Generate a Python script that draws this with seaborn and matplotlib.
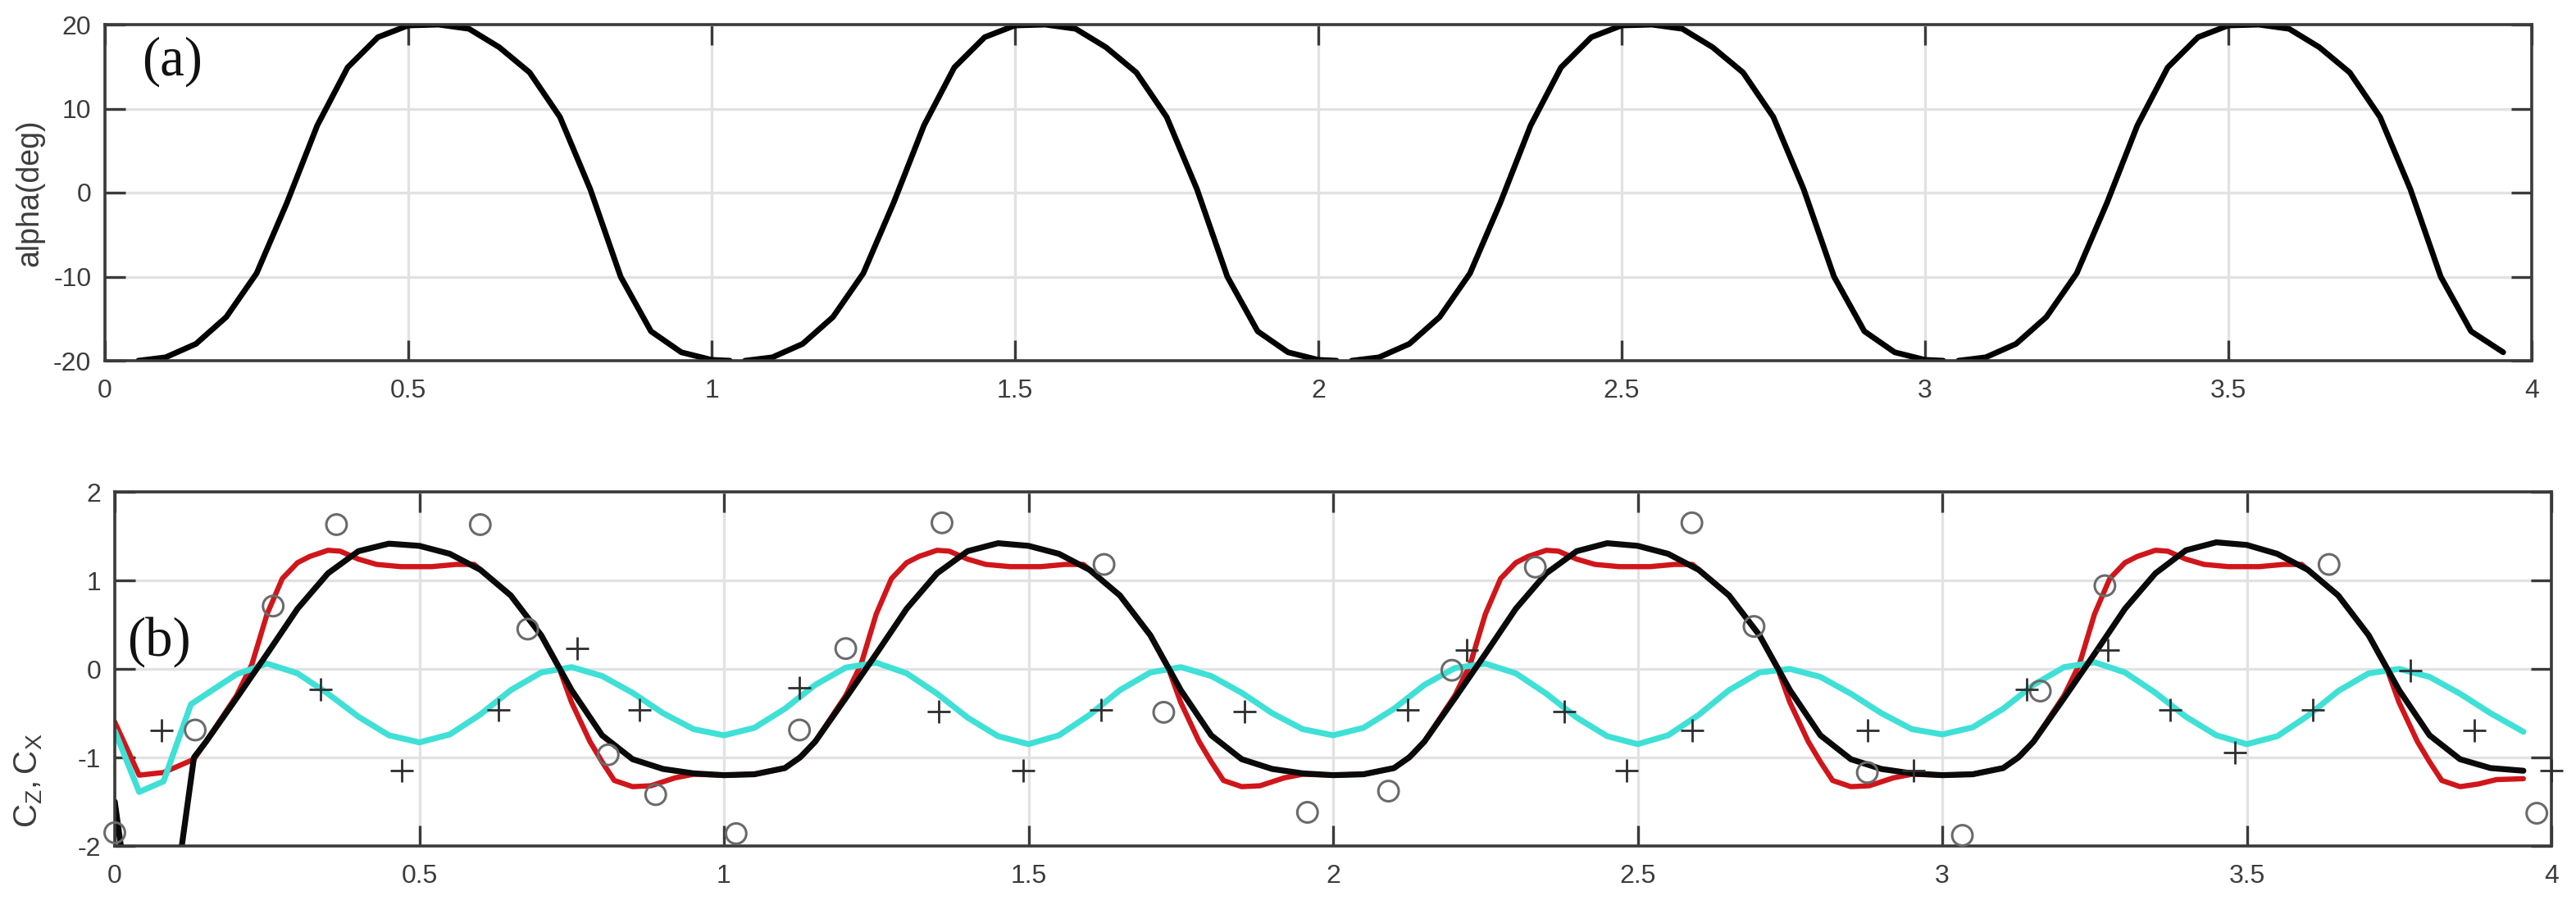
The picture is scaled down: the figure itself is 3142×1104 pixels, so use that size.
import numpy as np
import pandas as pd
import matplotlib
matplotlib.use("Agg")
import matplotlib.pyplot as plt
import seaborn as sns

# ---------------- data ----------------
# panel (a): angle of attack, four sampled cycles (gaps near each minimum)
alpha_t = [0.055, 0.10, 0.15, 0.20, 0.25, 0.30, 0.35, 0.40, 0.45, 0.50, 0.55, 0.60, 0.65, 0.70, 0.75, 0.80, 0.85, 0.90, 0.95, 1.00, 1.03,
           1.055, 1.10, 1.15, 1.20, 1.25, 1.30, 1.35, 1.40, 1.45, 1.50, 1.55, 1.60, 1.65, 1.70, 1.75, 1.80, 1.85, 1.90, 1.95, 2.00, 2.03,
           2.055, 2.10, 2.15, 2.20, 2.25, 2.30, 2.35, 2.40, 2.45, 2.50, 2.55, 2.60, 2.65, 2.70, 2.75, 2.80, 2.85, 2.90, 2.95, 3.00, 3.03,
           3.055, 3.10, 3.15, 3.20, 3.25, 3.30, 3.35, 3.40, 3.45, 3.50, 3.55, 3.60, 3.65, 3.70, 3.75, 3.80, 3.85, 3.90, 3.953]
alpha_v = [-20.0, -19.6, -18.0, -14.8, -9.6, -1.2, 8.0, 14.9, 18.5, 19.9, 20.0, 19.5, 17.3, 14.3, 9.0, 0.4, -10.0, -16.5, -19.0, -19.9, -20.0,
           -20.0, -19.6, -18.0, -14.8, -9.6, -1.2, 8.0, 14.9, 18.5, 19.9, 20.0, 19.5, 17.3, 14.3, 9.0, 0.4, -10.0, -16.5, -19.0, -19.9, -20.0,
           -20.0, -19.6, -18.0, -14.8, -9.6, -1.2, 8.0, 14.9, 18.5, 19.9, 20.0, 19.5, 17.3, 14.3, 9.0, 0.4, -10.0, -16.5, -19.0, -19.9, -20.0,
           -20.0, -19.6, -18.0, -14.8, -9.6, -1.2, 8.0, 14.9, 18.5, 19.9, 20.0, 19.5, 17.3, 14.3, 9.0, 0.4, -10.0, -16.5, -19.0]
alpha_seg = [1] * 21 + [2] * 21 + [3] * 21 + [4] * 19

# panel (b): Cz model (black)
cz_model_t = [0.0, 0.02, 0.10, 0.13, 0.15, 0.20, 0.25, 0.30, 0.35, 0.40, 0.45, 0.50, 0.55, 0.60, 0.65, 0.70, 0.75, 0.80, 0.85, 0.90, 0.95,
              1.00, 1.05, 1.10, 1.125, 1.15, 1.20, 1.25, 1.30, 1.35, 1.40, 1.45, 1.50, 1.55, 1.60, 1.65, 1.70, 1.75, 1.80, 1.85, 1.90, 1.95,
              2.00, 2.05, 2.10, 2.125, 2.15, 2.20, 2.25, 2.30, 2.35, 2.40, 2.45, 2.50, 2.55, 2.60, 2.65, 2.70, 2.75, 2.80, 2.85, 2.90, 2.95,
              3.00, 3.05, 3.10, 3.125, 3.15, 3.20, 3.25, 3.30, 3.35, 3.40, 3.45, 3.50, 3.55, 3.60, 3.65, 3.70, 3.75, 3.80, 3.85, 3.90, 3.954]
cz_model_v = [-1.5, -2.5, -2.5, -1.0, -0.82, -0.33, 0.17, 0.68, 1.08, 1.33, 1.415, 1.39, 1.30, 1.12, 0.83, 0.38, -0.24, -0.75, -1.02, -1.13, -1.18,
              -1.20, -1.19, -1.12, -1.0, -0.82, -0.33, 0.17, 0.68, 1.08, 1.33, 1.42, 1.39, 1.30, 1.12, 0.83, 0.38, -0.24, -0.75, -1.02, -1.13, -1.18,
              -1.20, -1.19, -1.12, -1.0, -0.82, -0.33, 0.17, 0.68, 1.08, 1.33, 1.42, 1.39, 1.30, 1.12, 0.83, 0.38, -0.24, -0.75, -1.02, -1.13, -1.18,
              -1.20, -1.19, -1.12, -1.0, -0.82, -0.33, 0.17, 0.68, 1.08, 1.34, 1.43, 1.40, 1.30, 1.12, 0.83, 0.38, -0.24, -0.75, -1.02, -1.12, -1.15]

# panel (b): Cz experiment (red)
cz_exp_t = [0.0, 0.04, 0.08, 0.13, 0.15, 0.20, 0.225, 0.25, 0.275, 0.30, 0.32, 0.35, 0.37, 0.40, 0.43, 0.47, 0.52, 0.56, 0.59, 0.65, 0.70, 0.73,
            0.75, 0.78, 0.80, 0.82, 0.85, 0.88, 0.92, 0.95, 1.00, 1.05, 1.10, 1.13,
            1.15, 1.20, 1.225, 1.25, 1.275, 1.30, 1.32, 1.35, 1.37, 1.40, 1.43, 1.47, 1.52, 1.56, 1.59, 1.65, 1.70, 1.73,
            1.75, 1.78, 1.80, 1.82, 1.85, 1.88, 1.92, 1.95, 2.00, 2.05, 2.10, 2.13,
            2.15, 2.20, 2.225, 2.25, 2.275, 2.30, 2.32, 2.35, 2.37, 2.40, 2.43, 2.47, 2.52, 2.56, 2.59, 2.65, 2.70, 2.73,
            2.75, 2.78, 2.80, 2.82, 2.85, 2.88, 2.92, 2.95, 3.00, 3.05, 3.10, 3.13,
            3.15, 3.20, 3.225, 3.25, 3.275, 3.30, 3.32, 3.35, 3.37, 3.40, 3.43, 3.47, 3.52, 3.56, 3.59, 3.65, 3.70, 3.73,
            3.75, 3.78, 3.80, 3.82, 3.85, 3.88, 3.91, 3.954]
cz_exp_v = [-0.6, -1.2, -1.17, -1.02, -0.82, -0.30, 0.05, 0.62, 1.02, 1.20, 1.27, 1.34, 1.33, 1.24, 1.18, 1.155, 1.155, 1.18, 1.18, 0.83, 0.38, 0.0,
            -0.38, -0.82, -1.05, -1.26, -1.33, -1.32, -1.23, -1.19, -1.20, -1.19, -1.12, -0.97,
            -0.82, -0.30, 0.05, 0.62, 1.02, 1.20, 1.27, 1.34, 1.33, 1.24, 1.18, 1.155, 1.155, 1.18, 1.18, 0.83, 0.38, 0.0,
            -0.38, -0.82, -1.05, -1.26, -1.33, -1.32, -1.23, -1.19, -1.20, -1.19, -1.12, -0.97,
            -0.82, -0.30, 0.05, 0.62, 1.02, 1.20, 1.27, 1.34, 1.33, 1.24, 1.18, 1.155, 1.155, 1.18, 1.18, 0.83, 0.38, 0.0,
            -0.38, -0.82, -1.05, -1.26, -1.33, -1.32, -1.23, -1.19, -1.20, -1.19, -1.12, -0.97,
            -0.82, -0.30, 0.05, 0.62, 1.02, 1.20, 1.27, 1.34, 1.33, 1.24, 1.18, 1.155, 1.155, 1.18, 1.18, 0.83, 0.38, 0.0,
            -0.38, -0.82, -1.05, -1.26, -1.33, -1.30, -1.25, -1.24]

# panel (b): Cx (cyan)
cx_t = [0.0, 0.04, 0.08, 0.125, 0.16, 0.20, 0.25, 0.30, 0.35, 0.40, 0.45, 0.50, 0.55, 0.60, 0.65, 0.70, 0.75, 0.80, 0.85, 0.90, 0.95,
        1.00, 1.05, 1.10, 1.15, 1.20, 1.25, 1.30, 1.35, 1.40, 1.45, 1.50, 1.55, 1.60, 1.65, 1.70, 1.75, 1.80, 1.85, 1.90, 1.95,
        2.00, 2.05, 2.10, 2.15, 2.20, 2.25, 2.30, 2.35, 2.40, 2.45, 2.50, 2.55, 2.60, 2.65, 2.70, 2.75, 2.80, 2.85, 2.90, 2.95,
        3.00, 3.05, 3.10, 3.15, 3.20, 3.25, 3.30, 3.35, 3.40, 3.45, 3.50, 3.55, 3.60, 3.65, 3.70, 3.75, 3.80, 3.85, 3.90, 3.954]
cx_v = [-0.7, -1.39, -1.27, -0.40, -0.24, -0.06, 0.06, -0.05, -0.28, -0.54, -0.75, -0.83, -0.74, -0.515, -0.24, -0.04, 0.02, -0.08, -0.27, -0.50, -0.68,
        -0.75, -0.665, -0.45, -0.18, 0.015, 0.07, -0.05, -0.28, -0.55, -0.76, -0.85, -0.75, -0.52, -0.24, -0.04, 0.02, -0.08, -0.27, -0.50, -0.68,
        -0.75, -0.665, -0.45, -0.18, 0.01, 0.06, -0.05, -0.28, -0.55, -0.76, -0.85, -0.75, -0.52, -0.24, -0.04, 0.0, -0.09, -0.28, -0.50, -0.68,
        -0.74, -0.66, -0.45, -0.18, 0.02, 0.075, -0.04, -0.27, -0.54, -0.75, -0.85, -0.76, -0.53, -0.25, -0.05, 0.0, -0.09, -0.28, -0.50, -0.71]

# panel (b): measured points
circ_t = [0.0, 0.132, 0.26, 0.364, 0.600, 0.678, 0.81, 0.888, 1.02, 1.124, 1.20, 1.358, 1.624, 1.722, 1.958, 2.091, 2.195,
          2.332, 2.589, 2.691, 2.877, 3.033, 3.161, 3.267, 3.635, 3.976]
circ_v = [-1.85, -0.69, 0.71, 1.63, 1.63, 0.45, -0.97, -1.42, -1.86, -0.69, 0.23, 1.65, 1.18, -0.49, -1.62, -1.38, -0.015,
          1.15, 1.65, 0.48, -1.17, -1.88, -0.25, 0.94, 1.18, -1.63]
plus_t = [0.077, 0.338, 0.471, 0.63, 0.759, 0.862, 1.124, 1.353, 1.491, 1.619, 1.855, 2.122, 2.22, 2.379, 2.482, 2.589,
          2.877, 2.953, 3.139, 3.272, 3.374, 3.48, 3.608, 3.768, 3.874, 4.0]
plus_v = [-0.69, -0.23, -1.15, -0.46, 0.23, -0.46, -0.215, -0.48, -1.15, -0.46, -0.48, -0.46, 0.215, -0.48, -1.15, -0.69,
          -0.69, -1.15, -0.23, 0.215, -0.46, -0.94, -0.46, -0.015, -0.69, -1.15]

x_ticks = [0, 0.5, 1, 1.5, 2, 2.5, 3, 3.5, 4]
x_ticklabels = ["0", "0.5", "1", "1.5", "2", "2.5", "3", "3.5", "4"]
a_yticks = [-20, -10, 0, 10, 20]
a_yticklabels = ["-20", "-10", "0", "10", "20"]
b_yticks = [-2, -1, 0, 1, 2]
b_yticklabels = ["-2", "-1", "0", "1", "2"]

# ---------------- style ----------------
sns.set_theme(style="ticks")
FAM = ["Liberation Sans Narrow", "Liberation Sans", "DejaVu Sans"]
plt.rcParams["font.family"] = FAM
plt.rcParams["mathtext.fontset"] = "custom"
plt.rcParams["mathtext.rm"] = "Liberation Sans"
plt.rcParams["mathtext.it"] = "Liberation Sans"
plt.rcParams["lines.solid_joinstyle"] = "round"
plt.rcParams["lines.solid_capstyle"] = "round"

GRID = "#e2e2e2"
SPINE = "#3a3a3a"
TXT = "#3c3c3c"

W, H = 3142, 1104
fig = plt.figure(figsize=(W / 100, H / 100), dpi=100)
fig.patch.set_facecolor("white")

ax1 = fig.add_axes([128 / W, 1 - 440 / H, (3088 - 128) / W, (440 - 30) / H])
ax2 = fig.add_axes([140 / W, 1 - 1032 / H, (3112 - 140) / W, (1032 - 600) / H])


def style_axes(ax, yticks, yticklabels, ylim):
    ax.set_xlim(0, 4)
    ax.set_ylim(*ylim)
    ax.set_xticks(x_ticks)
    ax.set_xticklabels(x_ticklabels)
    ax.set_yticks(yticks)
    ax.set_yticklabels(yticklabels)
    ax.grid(True, color=GRID, linewidth=2.4)
    ax.set_axisbelow(True)
    for s in ax.spines.values():
        s.set_visible(True)
        s.set_color(SPINE)
        s.set_linewidth(2.6)
    ax.tick_params(axis="both", direction="in", length=18, width=2.4, color=SPINE,
                   top=True, right=True, labelsize=23, labelcolor=TXT)
    ax.tick_params(axis="x", pad=16)
    ax.tick_params(axis="y", pad=12)
    ax.set_xlabel("")
    ax.set_ylabel("")
    ax.set_facecolor("white")


# ---- panel (a)
df_a = pd.DataFrame({"t": alpha_t, "alpha": alpha_v, "seg": alpha_seg})
sns.lineplot(data=df_a, x="t", y="alpha", units="seg", estimator=None, sort=False,
             color="black", linewidth=5.0, ax=ax1, legend=False)
style_axes(ax1, a_yticks, a_yticklabels, (-20, 20))
ax1.text(173 / W, 1 - 92 / H, "(a)", transform=fig.transFigure, fontsize=48,
         family=["Liberation Serif", "DejaVu Serif"], color="#111111", ha="left", va="baseline")
fig.text(36 / W, 1 - 235 / H, "alpha(deg)", rotation=90, ha="center", va="center",
         fontsize=27, family=["Liberation Sans", "DejaVu Sans"], color=TXT)

# ---- panel (b)
df_red = pd.DataFrame({"t": cz_exp_t, "c": cz_exp_v})
df_blk = pd.DataFrame({"t": cz_model_t, "c": cz_model_v})
df_cy = pd.DataFrame({"t": cx_t, "c": cx_v})
sns.lineplot(data=df_red, x="t", y="c", estimator=None, sort=False, color="#d0161a",
             linewidth=4.6, ax=ax2, legend=False)
sns.lineplot(data=df_cy, x="t", y="c", estimator=None, sort=False, color="#3fe0d6",
             linewidth=5.2, ax=ax2, legend=False)
sns.lineplot(data=df_blk, x="t", y="c", estimator=None, sort=False, color="#0a0a0a",
             linewidth=5.2, ax=ax2, legend=False)

df_c = pd.DataFrame({"t": circ_t, "c": circ_v})
df_p = pd.DataFrame({"t": plus_t, "c": plus_v})
sns.scatterplot(data=df_c, x="t", y="c", marker="o", s=320, facecolors="none",
                edgecolor="#6a6a6a", linewidth=2.2, ax=ax2, legend=False, clip_on=False, zorder=5)
sns.scatterplot(data=df_p, x="t", y="c", marker="+", s=420, color="#2e2e2e",
                linewidth=2.0, ax=ax2, legend=False, clip_on=False, zorder=5)
style_axes(ax2, b_yticks, b_yticklabels, (-2, 2))
ax2.text(155 / W, 1 - 800 / H, "(b)", transform=fig.transFigure, fontsize=48,
         family=["Liberation Serif", "DejaVu Serif"], color="#111111", ha="left", va="baseline")
fig.text(35 / W, 1 - 952 / H, r"$\mathregular{C_Z,C_X}$", rotation=90, ha="center", va="center",
         fontsize=29, color=TXT)

fig.savefig("out.png", dpi=100, facecolor="white")
